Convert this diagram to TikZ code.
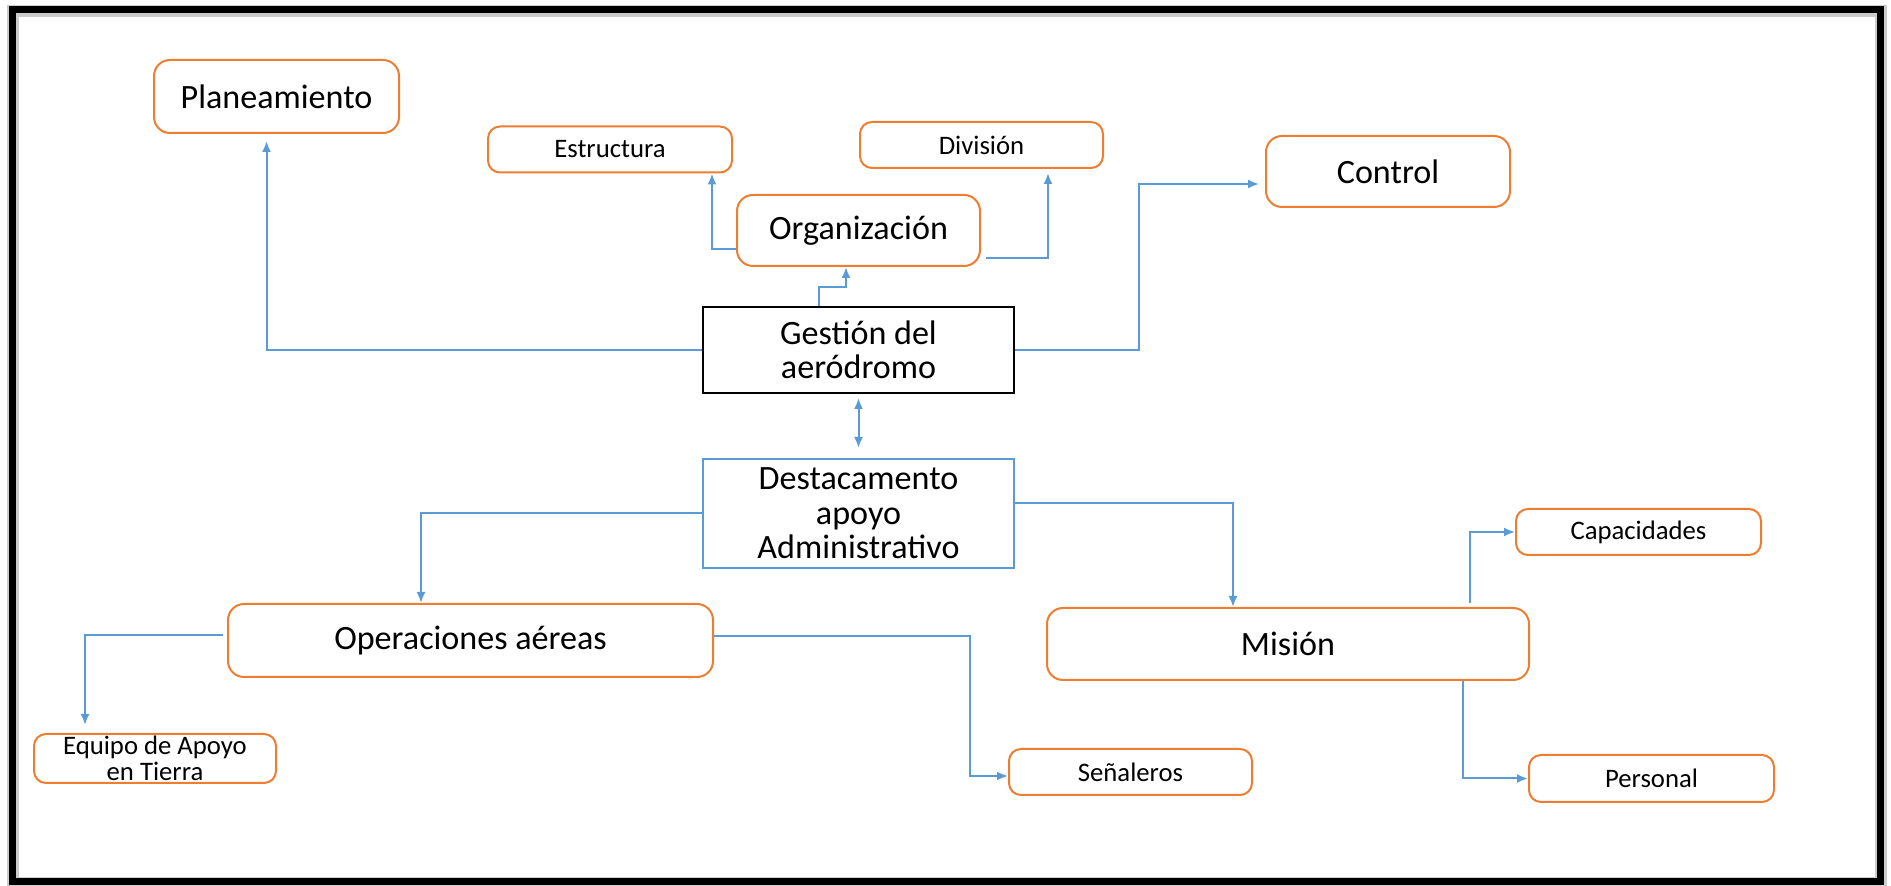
\documentclass[tikz,border=0pt]{standalone}
\usepackage{fontspec}
\setmainfont{Carlito}
\usetikzlibrary{arrows.meta,positioning}
\definecolor{boxorange}{HTML}{ED7D31}
\definecolor{linkblue}{HTML}{5B9BD5}

\begin{document}
\begin{tikzpicture}[
  x=0.1mm, y=-0.1mm,
  >={Latex[length=1.1mm,width=0.9mm]},
  box/.style={draw=boxorange, line width=0.2mm, rounded corners=1.2mm, inner sep=0pt, align=center, minimum width=24.4mm, minimum height=4.6mm, font=\fontsize{7.6}{7.3}\selectfont},
  bigbox/.style={box, rounded corners=1.6mm, minimum height=7.2mm, font=\fontsize{9.7}{9.8}\selectfont},
  core/.style={bigbox, draw=black, sharp corners, minimum width=31.1mm, minimum height=8.6mm},
  arrow/.style={->, draw=linkblue, line width=0.2mm}
]
\useasboundingbox (0,0) rectangle (1891,886);
\draw[gray!40, line width=1.2mm] (13,11) rectangle (1881,883);
\draw[line width=0.7mm] (12,10) rectangle (1880,882);

\node[core] (gest) at (858.5,350) {Gestión del\\aeródromo};
\node[bigbox, minimum width=24.3mm, minimum height=7.1mm, above=3.9mm of gest] (org) {Organización};
\node[core, draw=linkblue, minimum height=10.9mm, below=6.4mm of gest] (dest) {Destacamento\\apoyo\\Administrativo};
\node[bigbox, minimum width=24.5mm, minimum height=7.3mm] (plan) at (276.5,96.5) {Planeamiento};
\node[bigbox, minimum height=7.1mm] (ctrl) at (1388,171.5) {Control};
\node[box] (estr) at (610,149.5) {Estructura};
\node[box, minimum width=24.3mm] (div) at (981.5,145) {División};
\node[bigbox, minimum width=48.5mm, minimum height=7.3mm] (oper) at (470.5,640.5) {Operaciones aéreas};
\node[bigbox, minimum width=48.2mm, minimum height=7.2mm] (mis) at (1288,644) {Misión};
\node[box, minimum width=24.2mm, minimum height=4.9mm] (equ) at (155,758.5) {Equipo de Apoyo\\en Tierra};
\node[box, minimum width=24.3mm] (sen) at (1130.5,772) {Señaleros};
\node[box, minimum width=24.5mm] (cap) at (1638.5,532) {Capacidades};
\node[box, minimum width=24.5mm, minimum height=4.7mm] (pers) at (1651.5,778.5) {Personal};

\draw[arrow, shorten >=0.7mm] (gest.west) -| ([xshift=-1mm]plan.south);
\draw[arrow, shorten >=0.6mm] (gest.east) -- ++(124,0) |- ([yshift=-1.25mm]ctrl.west);
\draw[arrow] ([xshift=-4mm]gest.north) -- ++(0,-19) -| ([xshift=-1.25mm]org.south);
\draw[arrow] ([yshift=-1.85mm]org.west) -| ([xshift=10.2mm]estr.south);
\draw[arrow, shorten <=0.5mm, shorten >=0.4mm] ([yshift=-2.75mm]org.east) -| ([xshift=6.65mm]div.south);
\draw[arrow, <->, shorten <=0.4mm, shorten >=1mm] (gest.south) -- (dest.north);
\draw[arrow] (dest.west) -| ([xshift=-4.95mm]oper.north);
\draw[arrow] ([yshift=1.05mm]dest.east) -| ([xshift=-5.5mm]mis.north);
\draw[arrow, shorten <=0.4mm, shorten >=0.8mm] ([yshift=0.55mm]oper.west) -| ([xshift=-7mm]equ.north);
\draw[arrow] ([yshift=0.45mm]oper.east) -- ++(256,0) |- ([yshift=-0.4mm]sen.west);
\draw[arrow, shorten <=0.4mm] ([xshift=18.2mm]mis.north) |- (cap.west);
\draw[arrow] ([xshift=17.5mm]mis.south) |- (pers.west);
\end{tikzpicture}
\end{document}
